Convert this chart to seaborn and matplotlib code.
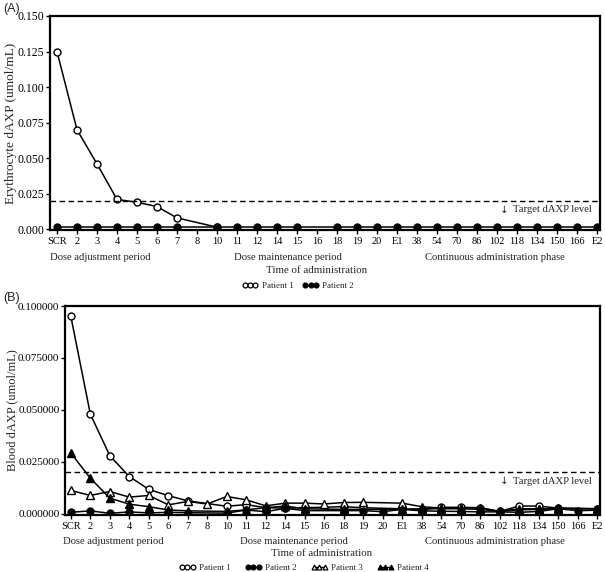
import numpy as np
import pandas as pd
import matplotlib
matplotlib.use("Agg")
import matplotlib.pyplot as plt
import seaborn as sns
from matplotlib.lines import Line2D

sns.set_theme(style="white")
plt.rcParams['font.family'] = ['Liberation Serif', 'DejaVu Serif']

nan = np.nan
categories = ["SCR", "2", "3", "4", "5", "6", "7", "8", "10", "11", "12", "14", "15", "16",
              "18", "19", "20", "E1", "38", "54", "70", "86", "102", "118", "134", "150", "166", "E2"]

# Panel A: erythrocyte dAXP
ery_p1 = [0.125, 0.070, 0.046, 0.021, 0.019, 0.016, 0.008, nan, 0.0015] + [nan] * 19
ery_p2 = [0.0015] * 7 + [nan] + [0.0015] * 5 + [nan] + [0.0015] * 14

# Panel B: blood dAXP
blood_p1 = [0.095, 0.048, 0.028, 0.018, 0.0118, 0.0088, 0.0063, nan, 0.0037, 0.0045, 0.0030,
            0.0028, 0.0030, nan, 0.0035, 0.0030, nan, 0.0025, 0.0020, 0.0032, 0.0032, 0.0030,
            0.0012, 0.0038, 0.0038, 0.0028, nan, 0.0025]
blood_p2 = [0.0008, 0.0015, 0.0003, 0.0010, 0.0005, 0.0008, 0.0006, nan, 0.0004, 0.0019, 0.0011,
            0.0027, 0.0016, nan, 0.0016, 0.0016, 0.0011, 0.0022, 0.0015, 0.0013, 0.0012, 0.0010,
            0.0010, 0.0008, 0.0012, 0.0025, 0.0016, 0.0018]
blood_p3 = [0.0113, 0.0089, 0.0108, 0.0081, 0.0089, 0.0044, 0.0060, 0.0048, 0.0084, 0.0068, 0.0039,
            0.0052, 0.0052, 0.0048, 0.0055, 0.0056, nan, 0.0052, 0.0035, 0.0028, 0.0028, 0.0030,
            0.0012, 0.0025, 0.0025, 0.0025, nan, 0.0025]
blood_p4 = [0.0293, 0.0172, 0.0076, 0.0047, 0.0035, 0.0019, 0.0015, nan, 0.0012, 0.0020, 0.0030,
            0.0038, 0.0025, nan, 0.0022, nan, nan, 0.0022, 0.0025, 0.0025, 0.0025, 0.0022,
            0.0012, 0.0020, 0.0022, 0.0028, nan, 0.0025]

target_level = 0.02
group_labels = ["Dose adjustment period", "Dose maintenance period", "Continuous administration phase"]

W, H = 605, 572
fig = plt.figure(figsize=(W / 100, H / 100), dpi=100)


def px_axes(left, top, right, bottom):
    return fig.add_axes([left / W, 1 - bottom / H, (right - left) / W, (bottom - top) / H])


styles = {
    "Patient 1": dict(marker="o", markerfacecolor="white"),
    "Patient 2": dict(marker="o", markerfacecolor="black"),
    "Patient 3": dict(marker="^", markerfacecolor="white"),
    "Patient 4": dict(marker="^", markerfacecolor="black"),
}


def draw(ax, series, ytick_size):
    x = np.arange(len(categories))
    for name, vals in series:
        v = np.array(vals, dtype=float)
        m = ~np.isnan(v)
        st = styles[name]
        sns.lineplot(x=x[m], y=v[m], ax=ax, color="black", linewidth=1.1,
                     marker=st["marker"], markerfacecolor=st["markerfacecolor"],
                     markeredgecolor="black", markeredgewidth=1.0,
                     markersize=5 if st["marker"] == "o" else 5.5, label=name)
    ax.axhline(target_level, color="black", linestyle=(0, (4, 2.5)), linewidth=1.0)
    ax.set_xticks(x)
    ax.set_xticklabels(categories, fontsize=7.5)
    for s in ax.spines.values():
        s.set_linewidth(1.6)
        s.set_color("black")
    ax.tick_params(axis="both", which="both", direction="out", length=3, width=1.0,
                   colors="black", left=True, bottom=True, pad=2)
    ax.tick_params(axis="y", labelsize=ytick_size, pad=1)
    ax.set_xlabel("")
    leg = ax.get_legend()
    if leg:
        leg.remove()


def ftext(x, y, s, **kw):
    fig.text(x / W, 1 - y / H, s, **kw)


# ---------- Panel A ----------
axA = px_axes(50, 16, 600, 230)
draw(axA, [("Patient 1", ery_p1), ("Patient 2", ery_p2)], 8.5)
axA.set_xlim(-0.35, 27.15)
axA.set_ylim(-0.0005, 0.150)
axA.set_yticks([0, 0.025, 0.05, 0.075, 0.1, 0.125, 0.150])
axA.set_yticklabels(["0.000", "0.025", "0.050", "0.075", "0.100", "0.125", "0.150"])
axA.set_ylabel("Erythrocyte dAXP (umol/mL)", fontsize=9.6)
axA.yaxis.set_label_coords((17 - 50) / 550, 0.5)
ftext(3, 9, "(A)", fontsize=9, family="Liberation Sans", va="center")
ftext(504, 210, "↓", fontsize=7.5, ha="center", va="center", family=["DejaVu Sans"])
ftext(513, 210, "Target dAXP level", fontsize=7.7, ha="left", va="center")
ftext(50, 257, group_labels[0], fontsize=7.7, ha="left", va="center")
ftext(288, 257, group_labels[1], fontsize=7.7, ha="center", va="center")
ftext(495, 257, group_labels[2], fontsize=7.7, ha="center", va="center")
ftext(317, 270, "Time of administration", fontsize=7.8, ha="center", va="center")

# ---------- Panel B ----------
axB = px_axes(65, 306, 600, 515)
draw(axB, [("Patient 1", blood_p1), ("Patient 2", blood_p2),
           ("Patient 3", blood_p3), ("Patient 4", blood_p4)], 8)
axB.set_xlim(-0.3, 27.15)
axB.set_ylim(-0.0005, 0.100)
axB.set_yticks([0, 0.025, 0.05, 0.075, 0.1])
axB.set_yticklabels(["0.000000", "0.025000", "0.050000", "0.075000", "0.100000"])
axB.set_ylabel("Blood dAXP (umol/mL)", fontsize=9)
axB.yaxis.set_label_coords((18 - 65) / 535, 0.5)
ftext(3, 298, "(B)", fontsize=9, family="Liberation Sans", va="center")
ftext(504, 481, "↓", fontsize=7.5, ha="center", va="center", family=["DejaVu Sans"])
ftext(513, 481, "Target dAXP level", fontsize=7.7, ha="left", va="center")
ftext(63, 541, group_labels[0], fontsize=7.7, ha="left", va="center")
ftext(294, 541, group_labels[1], fontsize=7.7, ha="center", va="center")
ftext(495, 541, group_labels[2], fontsize=7.7, ha="center", va="center")
ftext(322, 554, "Time of administration", fontsize=7.8, ha="center", va="center")


def legend_handles(names):
    hs = []
    for n in names:
        st = styles[n]
        hs.append(Line2D([], [], color="black", linewidth=1.0, marker=st["marker"],
                         markerfacecolor=st["markerfacecolor"], markeredgecolor="black",
                         markersize=3.5, markeredgewidth=0.9))
    return hs


names2 = ["Patient 1", "Patient 2"]
fig.legend(legend_handles(names2), names2, loc="center", bbox_to_anchor=(298 / W, 1 - 286 / H),
           ncol=2, frameon=False, fontsize=6.5, numpoints=3, handlelength=1.8,
           handletextpad=0.4, columnspacing=1.0, borderpad=0)
names4 = ["Patient 1", "Patient 2", "Patient 3", "Patient 4"]
fig.legend(legend_handles(names4), names4, loc="center", bbox_to_anchor=(304 / W, 1 - 568 / H),
           ncol=4, frameon=False, fontsize=6.5, numpoints=3, handlelength=1.8,
           handletextpad=0.4, columnspacing=1.6, borderpad=0)

fig.savefig("out.png", dpi=100, facecolor="white")
